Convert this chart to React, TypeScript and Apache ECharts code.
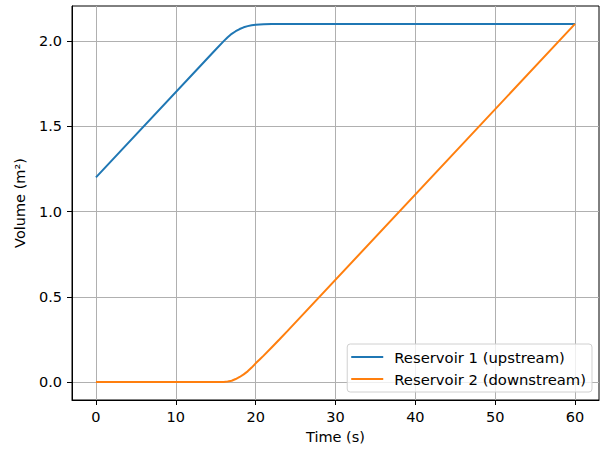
import React, { useEffect, useRef } from "react";
import * as echarts from "echarts";

const timeR1 = [0, 15, 16, 16.5, 17, 17.5, 18, 18.5, 19, 19.5, 20, 21, 22, 24, 60];
const volR1 = [1.2, 1.95, 1.999, 2.022, 2.042, 2.057, 2.07, 2.08, 2.087, 2.092, 2.095, 2.098, 2.099, 2.1, 2.1];
const timeR2 = [0, 15, 16, 16.5, 17, 17.5, 18, 18.5, 19, 19.5, 20, 20.5, 21, 22, 23, 24, 60];
const volR2 = [0, 0, 0.001, 0.003, 0.008, 0.018, 0.03, 0.045, 0.063, 0.085, 0.11, 0.132, 0.155, 0.203, 0.251, 0.3, 2.1];
const xTicks = [0, 10, 20, 30, 40, 50, 60];
const yTicks = [0, 0.5, 1.0, 1.5, 2.0];
const seriesNames = ["Reservoir 1 (upstream)", "Reservoir 2 (downstream)"];

const FONT = "DejaVu Sans";
const FS = 14.5;

export default function App() {
  const ref = useRef<HTMLDivElement>(null);
  useEffect(() => {
    document.body.style.margin = "0";
    const chart = echarts.init(ref.current!, null, { renderer: "svg" });
    chart.setOption({
      animation: false,
      backgroundColor: "#ffffff",
      textStyle: { fontFamily: FONT },
      grid: {
        left: 72,
        right: 1,
        top: 6,
        bottom: 50,
        show: true,
        borderColor: "#000000",
        borderWidth: 1,
        backgroundColor: "transparent",
      },
      legend: {
        orient: "vertical",
        right: 8,
        bottom: 58,
        icon: "rect",
        itemWidth: 32,
        itemHeight: 2,
        itemGap: 6,
        padding: [5, 6, 5, 4],
        borderColor: "#d0d0d0",
        borderWidth: 1,
        borderRadius: 3,
        backgroundColor: "rgba(255,255,255,0.8)",
        textStyle: { fontFamily: FONT, fontSize: 14.8, color: "#000", lineHeight: 16, padding: [0, 0, 0, 6] },
        data: seriesNames,
      },
      xAxis: {
        type: "value",
        min: -3,
        max: 63,
        name: "Time (s)",
        nameLocation: "middle",
        nameGap: 29,
        nameTextStyle: { fontFamily: FONT, fontSize: FS, color: "#000" },
        axisLine: { show: true, onZero: false, lineStyle: { color: "#000", width: 1 } },
        axisTick: { show: true, inside: false, length: 5, customValues: xTicks, lineStyle: { color: "#000" } },
        axisLabel: {
          customValues: xTicks,
          margin: 9,
          fontFamily: FONT,
          fontSize: FS,
          color: "#000",
        },
        splitLine: { show: true, lineStyle: { color: "#b0b0b0", width: 1 } },
      },
      yAxis: {
        type: "value",
        min: -0.105,
        max: 2.205,
        name: "Volume (m²)",
        nameLocation: "middle",
        nameGap: 45,
        nameTextStyle: { fontFamily: FONT, fontSize: FS, color: "#000" },
        axisLine: { show: true, onZero: false, lineStyle: { color: "#000", width: 1 } },
        axisTick: { show: true, inside: false, length: 5, customValues: yTicks, lineStyle: { color: "#000" } },
        axisLabel: {
          customValues: yTicks,
          margin: 10,
          fontFamily: FONT,
          fontSize: FS,
          color: "#000",
          formatter: (v: number) => v.toFixed(1),
        },
        splitLine: { show: true, lineStyle: { color: "#b0b0b0", width: 1 } },
      },
      series: [
        {
          name: seriesNames[0],
          type: "line",
          symbol: "none",
          smooth: false,
          data: timeR1.map((t, i) => [t, volR1[i]]),
          lineStyle: { color: "#1f77b4", width: 2 },
          itemStyle: { color: "#1f77b4" },
        },
        {
          name: seriesNames[1],
          type: "line",
          symbol: "none",
          smooth: false,
          data: timeR2.map((t, i) => [t, volR2[i]]),
          lineStyle: { color: "#ff7f0e", width: 2 },
          itemStyle: { color: "#ff7f0e" },
        },
      ],
    });
    return () => chart.dispose();
  }, []);
  return <div ref={ref} style={{ width: 600, height: 450 }} />;
}
